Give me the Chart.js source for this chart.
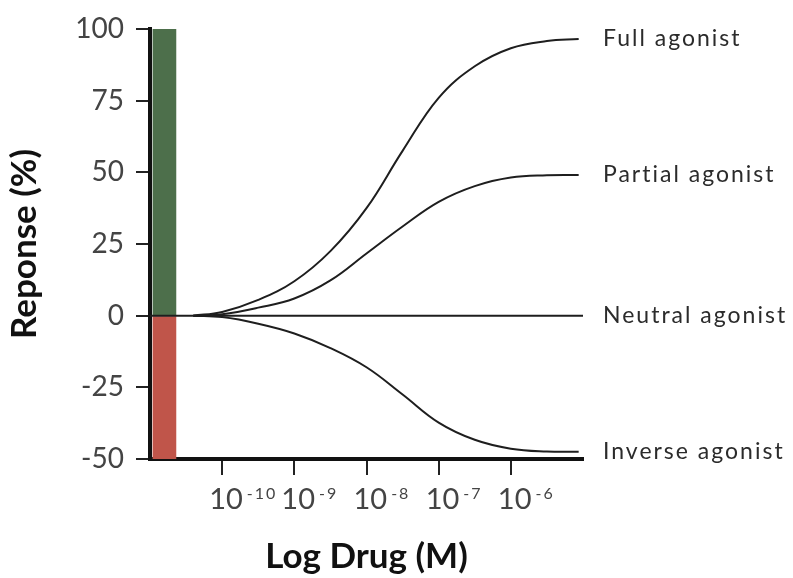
<!DOCTYPE html>
<html>
<head>
<meta charset="utf-8">
<script src="https://cdn.jsdelivr.net/npm/chart.js@4/dist/chart.umd.min.js"></script>
<style>
  html, body { margin: 0; padding: 0; background: #fff; }
  #wrap { width: 793px; height: 578px; }
</style>
</head>
<body>
<div id="wrap"><canvas id="doseChart" width="793" height="578"></canvas></div>
<script>
// log10 of drug concentration on x, response (%) on y
const logDose = [-10.4, -10.0, -9.5, -9.0, -8.5, -8.0, -7.5, -7.0, -6.5, -6.0, -5.5, -5.06];
const fullY    = [0, 1.3, 5.5, 12.0, 22.5, 37.5, 57.5, 76.0, 87.0, 93.3, 95.8, 96.5];
const partialY = [0, 0.5, 2.8, 6.0, 12.3, 21.7, 31.1, 39.7, 45.2, 48.2, 49.0, 49.1];
const inverseY = [0, -0.5, -2.8, -6.2, -11.3, -18.0, -27.5, -37.3, -43.3, -46.4, -47.4, -47.5];

const neutralX = [-11, -5.0];
const neutralY = [0, 0];

const seriesNames = ['Full agonist', 'Partial agonist', 'Neutral agonist', 'Inverse agonist'];

// coloured response band next to the axis
const bandX = -10.8;
const bandUp = [0, 100];
const bandDown = [-50, 0];

const xTickExps = [-10, -9, -8, -7, -6];
const yTicks = [-50, -25, 0, 25, 50, 75, 100];

const toPts = (xs, ys) => xs.map((x, i) => ({ x: x, y: ys[i] }));

const lineStyle = {
    type: 'line',
    borderColor: '#1e1e1e',
    borderWidth: 2,
    pointRadius: 0,
    fill: false,
    tension: 0.4,
    order: 1
};

// labels at the right end of each curve + the 10^n tick labels
const annotatePlugin = {
    id: 'annotate',
    afterDatasetsDraw(chart) {
        const ctx = chart.ctx;
        const xs = chart.scales.x;
        ctx.save();
        ctx.fillStyle = '#2b2b2b';
        ctx.font = '400 23px Lato';
        ctx.letterSpacing = '2px';
        ctx.textBaseline = 'middle';
        ctx.textAlign = 'left';
        seriesNames.forEach((name, i) => {
            const meta = chart.getDatasetMeta(i);
            const last = meta.data[meta.data.length - 1];
            ctx.fillText(name, chart.chartArea.right + 20, last.y);
        });
        ctx.fillStyle = '#444';
        ctx.textBaseline = 'alphabetic';
        xTickExps.forEach(e => {
            const px = xs.getPixelForValue(e);
            ctx.letterSpacing = '0px';
            ctx.font = '400 29px Lato';
            const bx = px - 13;
            ctx.fillText('10', bx, 509);
            const w = ctx.measureText('10').width;
            ctx.font = '400 16px Lato';
            ctx.letterSpacing = '2px';
            ctx.fillText(String(e), bx + w + 4, 499);
        });
        ctx.restore();
    }
};

new Chart(document.getElementById('doseChart').getContext('2d'), {
    type: 'line',
    data: {
        datasets: [
            Object.assign({ label: seriesNames[0], data: toPts(logDose, fullY) }, lineStyle),
            Object.assign({ label: seriesNames[1], data: toPts(logDose, partialY) }, lineStyle),
            Object.assign({ label: seriesNames[2], data: toPts(neutralX, neutralY) }, lineStyle, { tension: 0 }),
            Object.assign({ label: seriesNames[3], data: toPts(logDose, inverseY) }, lineStyle),
            {
                type: 'bar',
                label: 'up',
                data: [{ x: bandX, y: bandUp }],
                backgroundColor: '#4d6f4b',
                barThickness: 23,
                grouped: false,
                order: 2
            },
            {
                type: 'bar',
                label: 'down',
                data: [{ x: bandX, y: bandDown }],
                backgroundColor: '#c0554a',
                barThickness: 23,
                grouped: false,
                order: 2
            }
        ]
    },
    options: {
        responsive: false,
        animation: false,
        layout: { padding: { left: 0, top: 29, right: 210, bottom: 0 } },
        plugins: {
            legend: { display: false },
            tooltip: { enabled: false }
        },
        scales: {
            x: {
                type: 'linear',
                min: -11,
                max: -5,
                offset: false,
                afterBuildTicks: s => { s.ticks = xTickExps.map(v => ({ value: v })); },
                afterFit: s => { s.height = 119; },
                border: { display: true, color: '#111', width: 4 },
                grid: { offset: false, drawOnChartArea: false, drawTicks: true, tickLength: 16, color: '#222', lineWidth: 2 },
                ticks: { display: false },
                title: {
                    display: true,
                    text: 'Log Drug (M)',
                    color: '#111',
                    font: { family: 'Lato', size: 35, weight: 'bold' },
                    padding: { top: 0, bottom: 0 }
                }
            },
            y: {
                min: -50,
                max: 100,
                afterBuildTicks: s => { s.ticks = yTicks.map(v => ({ value: v })); },
                afterFit: s => { s.width = 150; },
                border: { display: true, color: '#111', width: 4 },
                grid: { drawOnChartArea: false, drawTicks: true, tickLength: 14, color: '#222', lineWidth: 2 },
                ticks: {
                    color: '#444',
                    padding: 12,
                    font: { family: 'Lato', size: 28, weight: '400' }
                },
                title: {
                    display: true,
                    text: 'Reponse (%)',
                    color: '#111',
                    font: { family: 'Lato', size: 35, weight: 'bold' },
                    padding: { top: 4, bottom: 0 }
                }
            }
        }
    },
    plugins: [annotatePlugin]
});
</script>
</body>
</html>
